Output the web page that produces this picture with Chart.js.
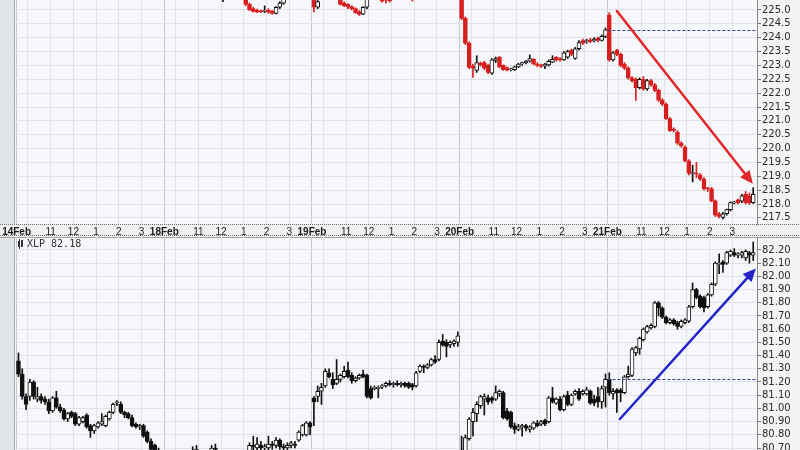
<!DOCTYPE html>
<html><head><meta charset="utf-8">
<script src="https://cdn.jsdelivr.net/npm/chart.js@4.4.1/dist/chart.umd.min.js"></script>
<style>
html,body{margin:0;padding:0;background:#fff;}
#wrap{position:relative;width:800px;height:450px;overflow:hidden;background:#fff;}
#top{position:absolute;left:0;top:0;}
#bot{position:absolute;left:0;top:237px;}
</style></head>
<body><div id="wrap"><canvas id="top" width="800" height="237"></canvas><canvas id="bot" width="800" height="213"></canvas></div>
<script>
const _ = null;
// ---- structure: 10-minute bars, 9:30-16:00 (39 bars per session) ----
const sessionDays = ['14Feb','18Feb','19Feb','20Feb','21Feb'];
const hourLabels = ['', '11', '12', '1', '2', '3'];      // 10:00 grid line is unlabeled
const hourBarOffsets = [3, 9, 15, 21, 27, 33];           // bars after the 9:30 open
const barsPerDay = 39;

// ---- price axis ticks ----
const spyTicks = [217.5,218.0,218.5,219.0,219.5,220.0,220.5,221.0,221.5,222.0,222.5,223.0,223.5,224.0,224.5,225.0];
const xlpTicks = [80.70,80.80,80.90,81.00,81.10,81.20,81.30,81.40,81.50,81.60,81.70,81.80,81.90,82.00,82.10,82.20];
const spyRange = [217.28, 225.36];
const xlpRange = [80.685, 82.298];
const xlpLabel = 'XLP 82.18';

// ---- top panel (SPY) OHLC; null = outside the visible price window ----
const spyOpen = [
 _,_,_,_,_,_,_,_,_,_, _,_,_,_,_,_,_,_,_,_, _,_,_,_,_,_,_,_,_,_, _,_,_,_,_,_,_,_,_,
 _,_,_,_,_,_,_,_,_,_, _,_,_,_,_,225.38,_,_,_,_, _,225.5,225.2,225.05,225.0,224.95,224.95,225.0,224.95,224.88, 225.1,225.25,_,_,_,_,_,_,_,
 225.4,225.1,_,_,_,_,_,225.45,225.25,225.2, 225.12,225.05,224.93,224.85,225.1,_,_,_,225.5,225.4, 225.45,_,_,_,_,_,225.45,_,_,_, _,_,_,_,_,_,_,_,_,
 225.7,224.7,223.8,222.98,222.82,223.08,223.1,223.0,222.72,223.18, 223.3,223.0,222.92,222.84,222.85,222.95,223.05,223.1,223.15,223.22, 223.05,223.02,222.97,223.02,223.12,223.3,223.25,223.2,223.3,223.55, 223.25,223.6,223.9,223.85,223.92,223.88,223.98,223.9,224.05,
 224.82,223.2,223.55,223.4,223.05,222.9,222.55,222.5,222.2,222.5, 222.15,222.45,222.3,222.1,221.75,221.6,221.08,220.68,220.6,220.2, 220.05,219.56,219.1,219.12,219.05,218.9,218.56,218.55,218.12,217.65, 217.52,217.65,217.8,218.04,218.15,218.1,218.35,218.3,218.05
];
const spyHigh = [
 _,_,_,_,_,_,_,_,_,_, _,_,_,_,_,_,_,_,_,_, _,_,_,_,_,_,_,_,_,_, _,_,_,_,_,_,_,_,_,
 _,_,_,_,_,_,_,_,_,_, _,_,_,_,_,225.45,_,_,_,_, _,225.55,225.25,225.1,225.03,225.0,225.15,225.05,224.98,225.12, 225.3,225.5,_,_,_,_,_,_,_,
 225.5,225.35,_,_,_,_,_,225.5,225.3,225.22, 225.15,225.08,224.98,225.12,225.45,_,_,_,225.55,225.45, 225.5,_,_,_,_,_,225.5,_,_,_, _,_,_,_,_,_,_,_,_,
 225.75,224.75,223.85,223.05,223.35,223.12,223.15,223.05,223.25,223.3, 223.32,223.02,222.95,222.9,222.98,223.08,223.12,223.18,223.38,223.25, 223.1,223.05,223.08,223.2,223.35,223.32,223.28,223.5,223.55,223.58, 223.65,223.9,223.95,223.95,223.98,224.0,224.02,224.1,224.35,
 224.9,223.5,223.58,223.45,223.1,222.95,222.6,222.55,222.55,222.6, 222.5,222.5,222.35,222.15,221.8,221.65,221.12,220.75,220.65,220.25, 220.1,219.6,219.4,219.5,219.1,218.95,218.6,218.6,218.15,217.7, 217.7,217.82,218.08,218.1,218.18,218.35,218.45,218.4,218.59
];
const spyLow = [
 _,_,_,_,_,_,_,_,_,_, _,_,_,_,_,_,_,_,_,_, _,_,_,_,_,_,_,_,_,_, _,_,_,_,_,_,_,_,_,
 _,_,_,_,_,_,_,_,_,_, _,_,_,_,_,225.30,_,_,_,_, _,225.15,224.98,224.92,224.9,224.9,224.9,224.88,224.85,224.86, 225.05,225.2,_,_,_,_,_,_,_,
 224.93,225.05,_,_,_,_,_,225.18,225.12,225.05, 225.0,224.88,224.8,224.83,225.05,_,_,_,225.28,225.25, 225.28,_,_,_,_,_,225.32,_,_,_, _,_,_,_,_,_,_,_,_,
 224.65,223.75,222.88,222.57,222.75,222.98,222.85,222.7,222.68,223.1, 222.92,222.82,222.8,222.8,222.82,222.92,223.0,223.05,223.12,223.02, 222.95,222.92,222.88,222.98,223.1,223.15,223.15,223.18,223.25,223.35, 223.22,223.55,223.75,223.8,223.82,223.85,223.85,223.88,224.0,
 223.15,223.15,223.35,222.95,222.85,222.5,222.4,221.74,222.15,222.1, 222.1,222.25,222.05,221.7,221.55,221.05,220.62,220.6,220.15,220.05, 219.52,219.05,218.8,218.95,218.85,218.5,218.45,218.08,217.55,217.5, 217.46,217.6,217.75,218.0,218.0,218.05,218.0,217.98,218.02
];
const spyClose = [
 _,_,_,_,_,_,_,_,_,_, _,_,_,_,_,_,_,_,_,_, _,_,_,_,_,_,_,_,_,_, _,_,_,_,_,_,_,_,_,
 _,_,_,_,_,_,_,_,_,_, _,_,_,_,_,225.40,_,_,_,_, _,225.2,225.0,224.95,224.93,224.93,224.95,224.92,224.88,225.1, 225.25,225.45,_,_,_,_,_,_,_,
 225.1,225.3,_,_,_,_,_,225.2,225.15,225.1, 225.05,224.9,224.84,225.1,225.4,_,_,_,225.32,225.35, 225.33,_,_,_,_,_,225.42,_,_,_, _,_,_,_,_,_,_,_,_,
 224.7,223.8,222.93,222.9,223.1,223.03,222.9,222.75,223.2,223.25, 222.95,222.85,222.83,222.86,222.95,223.05,223.1,223.15,223.25,223.05, 223.0,222.97,223.05,223.15,223.22,223.2,223.2,223.45,223.5,223.4, 223.6,223.82,223.8,223.9,223.87,223.95,223.9,224.05,224.28,
 223.2,223.45,223.4,223.0,222.9,222.55,222.45,222.2,222.5,222.15, 222.45,222.3,222.1,221.75,221.6,221.08,220.65,220.66,220.2,220.1, 219.56,219.1,219.1,219.08,218.9,218.55,218.55,218.12,217.6,217.55, 217.65,217.8,218.05,218.06,218.05,218.3,218.05,218.05,218.35
];

// ---- bottom panel (XLP) OHLC ----
const xlpOpen = [
 81.36,81.26,81.09,81.09,81.20,81.07,81.09,81.07,81.05,80.98, 81.08,81.01,80.99,80.92,80.97,80.96,80.88,80.90,80.95,80.87, 80.83,80.86,80.88,80.87,80.92,80.97,81.04,81.03,80.97,80.96, 80.93,80.88,80.86,80.87,80.82,80.75,80.72,80.67,_,
 _,_,_,_,_,_,_,80.66,80.68,_, _,_,80.67,80.70,_,_,_,_,_,_, _,_,80.68,80.72,80.70,80.72,80.70,80.70,80.73,80.72, 80.76,80.71,80.70,80.72,80.73,80.76,80.80,80.80,80.89,
 81.08,81.09,81.13,81.17,81.27,81.22,81.19,81.22,81.24,81.29, 81.25,81.21,81.23,81.26,81.25,81.15,81.15,81.15,81.16,81.17, 81.19,81.18,81.19,81.18,81.19,81.19,81.18,81.17,81.28,81.32, 81.31,81.33,81.37,81.37,81.51,81.50,81.48,81.49,81.50,
 80.60,80.64,80.77,80.90,80.96,81.02,81.07,81.08,81.08,81.07, 81.11,81.12,80.98,80.97,80.87,80.84,80.86,80.87,80.84,80.85, 80.89,80.88,80.91,80.90,81.08,81.04,81.07,80.99,81.10,81.03, 81.11,81.13,81.11,81.11,81.13,81.07,81.09,81.05,81.16,
 81.22,81.11,81.14,81.14,81.12,81.24,81.25,81.42,81.45,81.52, 81.58,81.61,81.62,81.80,81.76,81.69,81.65,81.67,81.65,81.62, 81.65,81.66,81.77,81.90,81.85,81.84,81.77,81.86,81.94,82.09, 82.11,82.10,82.16,82.18,82.16,82.16,82.14,82.18,82.16
];
const xlpHigh = [
 81.42,81.30,81.11,81.22,81.21,81.16,81.11,81.09,81.07,81.09, 81.13,81.03,81.00,80.97,80.98,80.97,80.94,80.94,80.96,80.88, 80.88,80.90,80.96,80.95,80.98,81.04,81.06,81.05,80.98,80.97, 80.95,80.89,80.88,80.88,80.83,80.77,80.73,80.70,_,
 _,_,_,_,_,_,_,80.71,80.72,_, _,_,80.72,80.73,_,_,_,_,_,_, _,_,80.74,80.79,80.78,80.75,80.73,80.79,80.75,80.78, 80.77,80.73,80.74,80.75,80.75,80.83,80.88,80.90,80.90,
 81.09,81.17,81.19,81.30,81.30,81.27,81.37,81.26,81.32,81.35, 81.27,81.24,81.26,81.29,81.26,81.17,81.17,81.17,81.18,81.20, 81.21,81.20,81.21,81.20,81.20,81.20,81.19,81.28,81.33,81.33, 81.34,81.38,81.40,81.52,81.56,81.52,81.51,81.52,81.58,
 80.79,80.80,80.93,81.00,81.05,81.10,81.11,81.10,81.09,81.17, 81.14,81.13,81.00,80.98,80.89,80.88,80.88,80.88,80.87,80.90, 80.91,80.91,80.92,81.09,81.16,81.08,81.09,81.10,81.13,81.11, 81.14,81.15,81.14,81.16,81.14,81.10,81.16,81.17,81.26,
 81.27,81.15,81.15,81.15,81.25,81.32,81.46,81.47,81.54,81.61, 81.63,81.64,81.81,81.81,81.77,81.70,81.68,81.68,81.66,81.67, 81.68,81.78,81.95,81.91,81.86,81.85,81.87,81.95,82.11,82.17, 82.12,82.19,82.20,82.21,82.18,82.19,82.20,82.19,82.26
];
const xlpLow = [
 81.24,81.07,80.99,81.06,81.07,81.05,81.04,81.03,80.96,80.97, 81.00,80.97,80.91,80.90,80.93,80.87,80.87,80.89,80.85,80.78, 80.81,80.85,80.87,80.86,80.91,80.96,81.02,80.96,80.93,80.92, 80.86,80.85,80.84,80.78,80.74,80.68,80.64,80.62,_,
 _,_,_,_,_,_,_,80.62,80.64,_, _,_,80.63,80.66,_,_,_,_,_,_, _,_,80.65,80.68,80.67,80.68,80.66,80.67,80.69,80.70, 80.69,80.67,80.68,80.70,80.70,80.75,80.79,80.79,80.80,
 80.87,81.05,81.03,81.16,81.23,81.15,81.18,81.20,81.23,81.23, 81.19,81.20,81.22,81.23,81.08,81.07,81.14,81.08,81.15,81.16, 81.17,81.16,81.17,81.16,81.16,81.15,81.14,81.16,81.27,81.27, 81.30,81.32,81.34,81.36,81.47,81.39,81.46,81.47,81.47,
 80.55,80.62,80.76,80.79,80.90,81.00,80.95,81.03,81.04,81.06, 81.09,80.92,80.91,80.85,80.81,80.83,80.79,80.83,80.82,80.84, 80.86,80.87,80.87,80.89,81.04,81.03,80.98,80.98,81.02,81.02, 81.10,81.06,81.10,81.10,81.03,81.02,81.01,81.00,81.01,
 81.10,81.07,80.97,81.05,81.11,81.23,81.24,81.40,81.41,81.51, 81.57,81.60,81.61,81.70,81.68,81.64,81.64,81.63,81.60,81.61, 81.64,81.65,81.76,81.83,81.76,81.73,81.76,81.85,81.93,82.02, 82.03,82.09,82.15,82.15,82.14,82.14,82.12,82.10,82.12
];
const xlpClose = [
 81.26,81.09,81.03,81.20,81.09,81.09,81.06,81.05,80.98,81.08, 81.01,80.98,80.92,80.96,80.94,80.88,80.93,80.93,80.86,80.83, 80.87,80.89,80.90,80.94,80.97,81.03,81.05,80.97,80.95,80.93, 80.87,80.86,80.87,80.79,80.75,80.69,80.66,80.64,_,
 _,_,_,_,_,_,_,80.68,80.69,_, _,_,80.70,80.69,_,_,_,_,_,_, _,_,80.72,80.71,80.73,80.70,80.71,80.73,80.72,80.76, 80.71,80.70,80.72,80.74,80.72,80.82,80.87,80.89,80.86,
 81.05,81.13,81.16,81.28,81.24,81.18,81.22,81.25,81.28,81.24, 81.21,81.23,81.25,81.24,81.09,81.08,81.16,81.16,81.17,81.19, 81.18,81.19,81.18,81.19,81.17,81.16,81.16,81.27,81.32,81.31, 81.33,81.37,81.35,81.50,81.48,81.47,81.50,81.51,81.55,
 80.64,80.78,80.92,80.97,81.03,81.09,81.09,81.05,81.06,81.12, 81.13,80.93,80.92,80.86,80.84,80.86,80.87,80.85,80.86,80.89, 80.87,80.90,80.88,81.08,81.05,81.07,80.99,81.09,81.03,81.10, 81.13,81.07,81.13,81.14,81.04,81.04,81.05,81.15,81.22,
 81.12,81.13,81.12,81.12,81.24,81.26,81.45,81.46,81.53,81.60, 81.62,81.63,81.80,81.76,81.69,81.65,81.67,81.64,81.62,81.66, 81.67,81.77,81.90,81.84,81.77,81.76,81.86,81.94,82.10,82.10, 82.09,82.18,82.19,82.16,82.17,82.18,82.19,82.16,82.18
];

// ---- annotations (data units: bar index, price) ----
const spyArrow = [158.0, 224.96, 193.9, 218.73];
const xlpArrow = [158.8, 80.92, 194.7, 82.06];
const spyPrevClose = 224.27;
const xlpPrevClose = 81.22;
const levelStartBar = 4 * barsPerDay - 0.5;

// ---- x ticks (session starts + hours) ----
const xTicks = [];
sessionDays.forEach((d, k) => {
  xTicks.push({value: k * barsPerDay - 0.5, label: d, day: true});
  hourBarOffsets.forEach((o, h) => xTicks.push({value: k * barsPerDay + o - 0.5, label: hourLabels[h], day: false}));
});
const xMin = -0.92, xMax = 195;

function candleSets(O, H, L, C, downCol, upCol) {
  const wick = [], body = [], wc = [], bc = [], bf = [];
  for (let i = 0; i < O.length; i++) {
    if (O[i] == null) continue;
    const up = C[i] >= O[i];
    const col = up ? upCol : downCol;
    wick.push({x: i, y: [L[i], H[i]]}); wc.push(col);
    body.push({x: i, y: [O[i], C[i]]}); bc.push(col); bf.push(up ? '#ffffff' : col);
  }
  return [
    {data: wick, backgroundColor: wc, borderWidth: 0, barThickness: 1, grouped: false, clip: 0, order: 2},
    {data: body, backgroundColor: bf, borderColor: bc, borderWidth: 1, borderSkipped: false,
     barThickness: 4, minBarLength: 1, grouped: false, clip: 0, order: 1}
  ];
}

function xScale(show) {
  return {
    type: 'linear', min: xMin, max: xMax, offset: false,
    afterBuildTicks: s => { s.ticks = xTicks.map(t => ({value: t.value})); },
    afterFit: s => { s.height = show ? 13 : 0; s.paddingLeft = 0; s.paddingRight = 0; },
    ticks: {
      display: show, autoSkip: false, maxRotation: 0, padding: 2, color: '#1a1a1a',
      callback: (v, i) => xTicks[i] ? xTicks[i].label : '',
      font: ctx => ({family: 'Liberation Sans', size: 10,
        weight: (xTicks[ctx.index] && xTicks[ctx.index].day) ? 'bold' : 'normal'})
    },
    grid: { offset: false, drawTicks: false, lineWidth: 1,
      color: ctx => (xTicks[ctx.index] && xTicks[ctx.index].day) ? '#c6cad0' : '#dfe2e6' },
    border: { display: false }
  };
}

function yScale(range, ticks, dec) {
  return {
    position: 'right', min: range[0], max: range[1],
    afterBuildTicks: s => { s.ticks = ticks.map(v => ({value: v})); },
    afterFit: s => { s.width = 43; s.paddingTop = 0; s.paddingBottom = 0; },
    ticks: { autoSkip: false, callback: v => Number(v).toFixed(dec), color: '#2a2a2a', padding: 1,
      font: {family: 'DejaVu Sans', size: 10} },
    grid: { color: '#dfe2e6', tickColor: '#777', tickLength: 4, lineWidth: 1 },
    border: { display: true, color: '#8a8a8a' }
  };
}

const frame = {
  id: 'frame',
  beforeDraw(chart, args, o) {
    const {ctx, chartArea: a, width, height} = chart;
    ctx.save();
    ctx.fillStyle = '#ffffff'; ctx.fillRect(0, 0, width, height);
    ctx.fillStyle = '#e2e6eb'; ctx.fillRect(0, a.top, a.left, a.bottom - a.top);
    ctx.fillStyle = '#a3abb4'; ctx.fillRect(a.left - 1, a.top, 1, a.bottom - a.top);
    ctx.fillStyle = '#f6f7fa'; ctx.fillRect(a.left, a.top, a.right - a.left, a.bottom - a.top);
    ctx.fillStyle = '#f4f4f4'; ctx.fillRect(a.right, a.top, width - a.right, a.bottom - a.top);
    if (o.strip) {
      ctx.fillStyle = '#f0f0f0'; ctx.fillRect(0, a.bottom, width, height - a.bottom);
      ctx.strokeStyle = '#6d6d6d'; ctx.lineWidth = 1; ctx.setLineDash([1, 1]);
      ctx.beginPath();
      ctx.moveTo(0, a.bottom + 0.5); ctx.lineTo(width, a.bottom + 0.5);
      ctx.moveTo(0, height - 1.5); ctx.lineTo(width, height - 1.5);
      ctx.stroke();
    }
    if (o.topLine) {
      ctx.fillStyle = '#a0a0a0'; ctx.fillRect(0, 0, width, 1);
    }
    ctx.restore();
  },
  afterDraw(chart, args, o) {
    if (!o.label) return;
    const {ctx, chartArea: a} = chart;
    ctx.save();
    ctx.fillStyle = '#333';
    ctx.fillRect(a.left + 3, a.top + 4, 2, 6);
    ctx.fillRect(a.left + 6, a.top + 3, 2, 7);
    ctx.fillRect(a.left + 4, a.top + 2, 1, 10);
    ctx.font = '10px "DejaVu Sans Mono"';
    ctx.fillStyle = '#333'; ctx.textBaseline = 'middle';
    ctx.fillText(o.label, a.left + 12, a.top + 7);
    ctx.restore();
  }
};

const marks = {
  id: 'marks',
  afterDatasetsDraw(chart, args, o) {
    const {ctx, chartArea: a, scales: {x, y}} = chart;
    ctx.save();
    ctx.beginPath(); ctx.rect(a.left, a.top, a.right - a.left, a.bottom - a.top); ctx.clip();
    const ly = Math.round(y.getPixelForValue(o.level)) + 0.5;
    ctx.strokeStyle = o.dashColor; ctx.lineWidth = 1; ctx.setLineDash([3, 2]);
    ctx.beginPath(); ctx.moveTo(x.getPixelForValue(o.levelFrom), ly); ctx.lineTo(a.right, ly); ctx.stroke();
    ctx.setLineDash([]);
    const x0 = x.getPixelForValue(o.arrow[0]), y0 = y.getPixelForValue(o.arrow[1]);
    const x1 = x.getPixelForValue(o.arrow[2]), y1 = y.getPixelForValue(o.arrow[3]);
    const ang = Math.atan2(y1 - y0, x1 - x0), L = 13, W = 6;
    const bx = x1 - L * Math.cos(ang), by = y1 - L * Math.sin(ang);
    ctx.strokeStyle = o.color; ctx.lineWidth = o.width; ctx.lineCap = 'round';
    ctx.beginPath(); ctx.moveTo(x0, y0); ctx.lineTo(bx, by); ctx.stroke();
    ctx.fillStyle = o.color;
    ctx.beginPath(); ctx.moveTo(x1, y1);
    ctx.lineTo(bx + W * Math.sin(ang), by - W * Math.cos(ang));
    ctx.lineTo(bx - W * Math.sin(ang), by + W * Math.cos(ang));
    ctx.closePath(); ctx.fill();
    ctx.restore();
  }
};

function makeChart(id, sets, range, ticks, dec, showX, frameOpts, markOpts) {
  return new Chart(document.getElementById(id), {
    type: 'bar',
    data: { datasets: sets },
    options: {
      responsive: false, animation: false, devicePixelRatio: 1,
      layout: { padding: {left: 15, right: 0, top: 0, bottom: 0} },
      plugins: { legend: {display: false}, tooltip: {enabled: false}, frame: frameOpts, marks: markOpts },
      scales: { x: xScale(showX), y: yScale(range, ticks, dec) }
    },
    plugins: [frame, marks]
  });
}

makeChart('top', candleSets(spyOpen, spyHigh, spyLow, spyClose, '#d81e1e', '#111111'),
  spyRange, spyTicks, 1, true, {strip: true},
  {level: spyPrevClose, levelFrom: levelStartBar, dashColor: '#3b3b9c', arrow: spyArrow, color: '#e2262a', width: 2.5});
makeChart('bot', candleSets(xlpOpen, xlpHigh, xlpLow, xlpClose, '#111111', '#111111'),
  xlpRange, xlpTicks, 2, false, {topLine: true, label: xlpLabel},
  {level: xlpPrevClose, levelFrom: levelStartBar, dashColor: '#3b3b9c', arrow: xlpArrow, color: '#2424c8', width: 2.5});
</script>
</body></html>
